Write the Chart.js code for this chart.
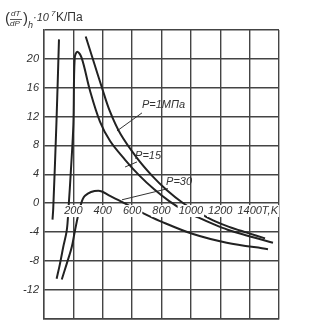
<!DOCTYPE html>
<html>
<head>
<meta charset="utf-8">
<script src="https://cdn.jsdelivr.net/npm/chart.js"></script>
<style>
  html, body { margin: 0; padding: 0; background: #fff; }
  #wrap { width: 317px; height: 330px; position: relative; }
</style>
</head>
<body>
<div id="wrap"><canvas id="jtchart"></canvas></div>
<script>
var xTicks = [200, 400, 600, 800, 1000, 1200, 1400];
var yTicks = [20, 16, 12, 8, 4, 0, -4, -8, -12];

// steep branch at low temperature
var lowT = [58, 63, 85, 102];
var lowV = [-2.3, -0.7, 11.3, 22.7];

// P = 1 MPa
var p1T = [284, 340, 393, 449, 520, 631, 735, 835, 946, 1050, 1151, 1260, 1380, 1505];
var p1V = [23.1, 19.5, 16.1, 12.7, 9.6, 6.3, 3.8, 1.8, 0.0, -1.3, -2.4, -3.3, -4.1, -4.9];

// P = 15
var p15T = [86, 109, 131, 155, 167, 184, 200, 209, 227, 257, 313, 381, 450, 552, 650, 750, 850, 950, 1050, 1150, 1250, 1380, 1559];
var p15V = [-10.5, -8.4, -6.1, -3.8, -0.7, 4.8, 10.9, 20.1, 21.0, 20.1, 15.6, 11.3, 8.6, 6.0, 3.8, 1.9, 0.3, -1.0, -2.0, -2.9, -3.7, -4.5, -5.5];

// P = 30
var p30T = [121, 155, 189, 211, 245, 279, 370, 449, 563, 674, 790, 1015, 1244, 1525];
var p30V = [-10.6, -8.4, -6.1, -3.8, -0.7, 1.0, 1.7, 1.0, -0.2, -1.4, -2.5, -4.3, -5.5, -6.4];

// curve labels: text, position, leader start/end (data units)
var labelText = ["P=1МПа", "P=15", "P=30"];
var labelAt = [[667, 13.6], [620, 6.5], [831, 2.9]];
var leaderFrom = [[667, 12.5], [633, 5.7], [844, 2.0]];
var leaderTo = [[497, 10.0], [552, 5.0], [531, 0.45]];

function pts(xs, ys) {
  return xs.map(function (x, i) { return { x: x, y: ys[i] }; });
}

var curveStyle = {
  showLine: true, pointRadius: 0, borderColor: "#222", borderWidth: 2,
  tension: 0.35, fill: false
};

var datasets = [
  Object.assign({ data: pts(lowT, lowV) }, curveStyle),
  Object.assign({ data: pts(p1T, p1V) }, curveStyle),
  Object.assign({ data: pts(p15T, p15V) }, curveStyle),
  Object.assign({ data: pts(p30T, p30V) }, curveStyle)
];
for (var i = 0; i < leaderFrom.length; i++) {
  datasets.push({
    data: [{ x: leaderFrom[i][0], y: leaderFrom[i][1] }, { x: leaderTo[i][0], y: leaderTo[i][1] }],
    showLine: true, pointRadius: 0, borderColor: "#333", borderWidth: 1, tension: 0
  });
}

var textPlugin = {
  id: "texts",
  afterDatasetsDraw: function (chart) {
    var ctx = chart.ctx;
    var xs = chart.scales.x, ys = chart.scales.y;
    var y0 = ys.getPixelForValue(0) + 8;
    ctx.save();
    ctx.font = "italic 11px 'Liberation Sans'";
    ctx.textBaseline = "middle";
    xTicks.forEach(function (v) {
      var s = String(v);
      var w = ctx.measureText(s).width;
      var px = xs.getPixelForValue(v);
      var extra = v === 1400 ? "T,K" : "";
      var we = ctx.measureText(extra).width;
      ctx.fillStyle = "#fff";
      ctx.fillRect(px - w / 2 - 1, y0 - 6, w + we + 2, 12);
      ctx.fillStyle = "#333";
      ctx.textAlign = "left";
      ctx.fillText(s + extra, px - w / 2, y0);
    });
    for (var i = 0; i < labelText.length; i++) {
      ctx.fillText(labelText[i], xs.getPixelForValue(labelAt[i][0]), ys.getPixelForValue(labelAt[i][1]));
    }
    // axis title
    ctx.fillStyle = "#333";
    ctx.textAlign = "left";
    ctx.font = "15px 'Liberation Sans'";
    ctx.fillText("(", 5, 19);
    ctx.fillText(")", 23, 19);
    ctx.font = "italic 8px 'Liberation Sans'";
    ctx.fillText("dT", 11, 14);
    ctx.fillText("dP", 10, 24);
    ctx.fillRect(10, 19, 12, 0.8);
    ctx.font = "italic 9px 'Liberation Sans'";
    ctx.fillText("h", 28, 25);
    ctx.font = "italic 11px 'Liberation Sans'";
    ctx.fillText("·10", 33, 18);
    ctx.font = "italic 8px 'Liberation Sans'";
    ctx.fillText("7", 51, 14);
    ctx.font = "12px 'Liberation Sans'";
    ctx.fillText("K/Па", 56, 18);
    ctx.restore();
  }
};

new Chart("jtchart", {
  type: "scatter",
  data: { datasets: datasets },
  options: {
    responsive: true,
    maintainAspectRatio: false,
    animation: false,
    layout: { padding: { top: 30, right: 38, bottom: 8, left: 0 } },
    plugins: { legend: { display: false }, tooltip: { enabled: false } },
    scales: {
      x: {
        type: "linear", min: 0, max: 1600,
        ticks: { display: false, stepSize: 200 },
        grid: { color: "#444", lineWidth: 1.4, drawTicks: false },
        border: { display: true, color: "#444", width: 1.4 },
        afterFit: function (s) { s.height = 0; }
      },
      y: {
        type: "linear", min: -16, max: 24,
        ticks: {
          stepSize: 4, padding: 5, color: "#333",
          font: { family: "'Liberation Sans'", size: 11, style: "italic" },
          callback: function (v) { return yTicks.indexOf(v) >= 0 ? String(v) : ""; }
        },
        grid: { color: "#444", lineWidth: 1.4, drawTicks: false },
        border: { display: true, color: "#444", width: 1.4 },
        afterFit: function (s) { s.width = 44; }
      }
    }
  },
  plugins: [textPlugin]
});
</script>
</body>
</html>
